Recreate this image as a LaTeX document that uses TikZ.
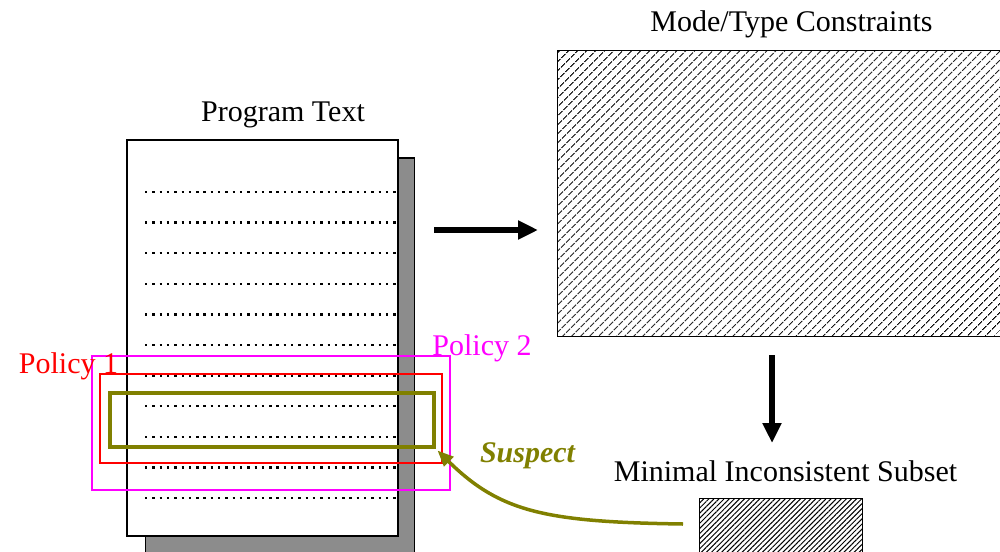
\documentclass[tikz,border=0pt]{standalone}
\usepackage{fontspec}
\setmainfont{Liberation Serif}
\usetikzlibrary{arrows.meta,patterns.meta,calc}

\definecolor{polmag}{RGB}{255,0,255}
\definecolor{polred}{RGB}{255,0,0}
\definecolor{susolive}{RGB}{128,128,0}

\tikzset{
	label/.style={inner sep=0pt, anchor=base},
	bigarrow/.style={line width=5.5pt, -{Triangle[length=20pt,width=18pt]}},
	policy/.style={line width=1.5pt},
}

\def\linegap{30.6}

\begin{document}
\begin{tikzpicture}[x=1pt, y=-1pt, font=\fontsize{30}{36}\selectfont]

	\clip (0,0) rectangle (1000,551);

	\node[draw, line width=1.5pt, fill=black!45, anchor=north west, minimum width=269pt,
		minimum height=420pt] (shadow) at (144.5,157) {};
	\node[draw, line width=1.5pt, fill=white, anchor=north west, minimum width=271pt,
		minimum height=396pt] (page) at (126,139) {};

	\foreach \i in {0,...,10}
		\draw[line width=2.4pt, dash pattern=on 2.4pt off 4.9pt] (145, 192+\linegap*\i) -- (398, 192+\linegap*\i);

	\node[label] (ptext) at (283,121) {Program Text};

	\node[draw, line width=1.5pt, anchor=north west, minimum width=460pt, minimum height=286pt,
		pattern={Lines[angle=45, distance=6.4pt, line width=1.3pt]}] (cons) at (557,50) {};
	\node[label] (ctext) at (791.5,32) {Mode/Type Constraints};

	\node[draw, line width=1.5pt, anchor=north west, minimum width=163pt, minimum height=70pt,
		pattern={Lines[angle=45, distance=3.6pt, line width=1pt]}] (mis) at (699,498) {};
	\node[label] (mtext) at (785.5,481) {Minimal Inconsistent Subset};

	\draw[bigarrow] ([xshift=19pt]shadow.east |- 0,230) -- ([xshift=-19pt]cons.west |- 0,230);

	\coordinate (d1) at (772,355);
	\coordinate (d2) at (772,443);
	\draw[bigarrow] (d1) -- (d2);

	\node[policy, draw=polmag, anchor=north west, minimum width=358pt, minimum height=134pt] (pol2) at (91,355) {};
	\node[policy, draw=polred, anchor=north west, minimum width=342pt, minimum height=89pt] (pol1) at (99,373) {};
	\node[draw=susolive, line width=3.5pt, anchor=north west, minimum width=324pt, minimum height=54pt] (sus) at (108,391) {};

	\node[label, text=polred] (p1text) at (68.5,373) {Policy 1};
	\node[label, text=polmag] (p2text) at (482,355) {Policy 2};
	\node[label, text=susolive, font=\fontsize{30}{36}\selectfont\bfseries\itshape] (stext) at (527.5,462) {Suspect};

	\coordinate (s1) at (683,524);
	\draw[susolive, line width=3.5pt, -{Triangle[length=16pt,width=13pt]}] (s1) .. controls (545,522) and (500,512) .. ([shift={(2,2)}]sus.south east);

\end{tikzpicture}
\end{document}
